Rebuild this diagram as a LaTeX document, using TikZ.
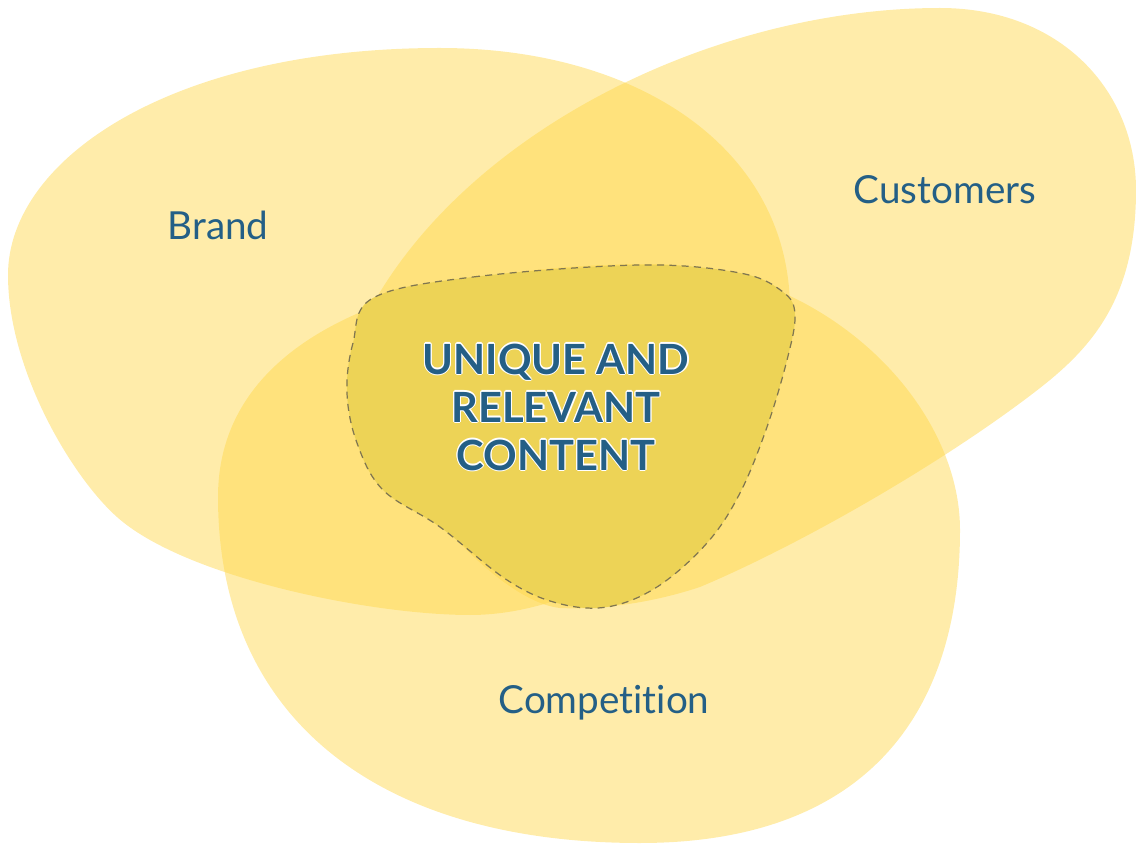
\documentclass[tikz,border=0pt]{standalone}
\usepackage{fontspec}
\setmainfont{Lato}[Ligatures=NoCommon]
\usetikzlibrary{calc}
\definecolor{blobyellow}{RGB}{255,215,74}
\definecolor{corefill}{RGB}{237,211,86}
\definecolor{dashgray}{RGB}{128,118,80}
\definecolor{labelblue}{RGB}{36,95,134}
\tikzset{
  blob/.style={fill=blobyellow, fill opacity=0.47, draw=none},
  core/.style={fill=corefill, draw=dashgray, line width=0.7pt, dash pattern=on 4pt off 3pt},
  setlabel/.style={text=labelblue, font=\fontsize{22}{26}\selectfont, inner sep=0pt},
  coretext/.style={text=labelblue, font=\bfseries\fontsize{23.7}{27.3}\selectfont, align=center, inner sep=0pt},
}
\begin{document}
\begin{tikzpicture}[x=0.02cm,y=-0.02cm]
\useasboundingbox (0,0) rectangle (1136,844);
% Brand
\fill[blob] (8,275) .. controls (8,160) and (170,48) .. (440,48)
  .. controls (640,48) and (790,150) .. (790,310)
  .. controls (790,470) and (620,615) .. (470,615)
  .. controls (370,615) and (184,577) .. (117,517)
  .. controls (72,477) and (8,370) .. (8,275) -- cycle;
% Customers
\fill[blob] (377,297) .. controls (479,125) and (720,8) .. (940,8)
  .. controls (1060,8) and (1136,90) .. (1136,190)
  .. controls (1136,295) and (1095,345) .. (1040,388)
  .. controls (945,462) and (800,545) .. (700,587)
  .. controls (652,603) and (600,610) .. (560,608)
  .. controls (480,600) and (316,400) .. (377,297) -- cycle;
% Competition
\fill[blob] (650,264) .. controls (820,264) and (960,400) .. (960,530)
  .. controls (960,720) and (860,843) .. (640,843)
  .. controls (380,843) and (218,720) .. (218,497)
  .. controls (218,330) and (420,264) .. (650,264) -- cycle;
% Core
\draw[core] plot[smooth cycle, tension=0.6] coordinates {
 (373,298) (473,277) (640,265) (740,273) (783,292) (795,315) (787,360) (767,427)
 (740,493) (707,543) (657,587) (607,607) (557,603) (507,580) (440,527) (383,490)
 (357,443) (347,393) (353,343)};
% labels
\node[setlabel] (brand) at (218,225) {Brand};
\node[setlabel] (customers) at (945,190) {Customers};
\node[setlabel] (competition) at (604,703) {Competition};
\foreach \dx/\dy in {0.7/0,-0.7/0,0/0.7,0/-0.7,0.5/0.5,-0.5/0.5,0.5/-0.5,-0.5/-0.5}
  \node[coretext, text=white] at ($(556,407)+(\dx pt,\dy pt)$) {UNIQUE AND\\RELEVANT\\CONTENT};
\node[coretext] (core) at (556,407) {UNIQUE AND\\RELEVANT\\CONTENT};
\end{tikzpicture}
\end{document}
